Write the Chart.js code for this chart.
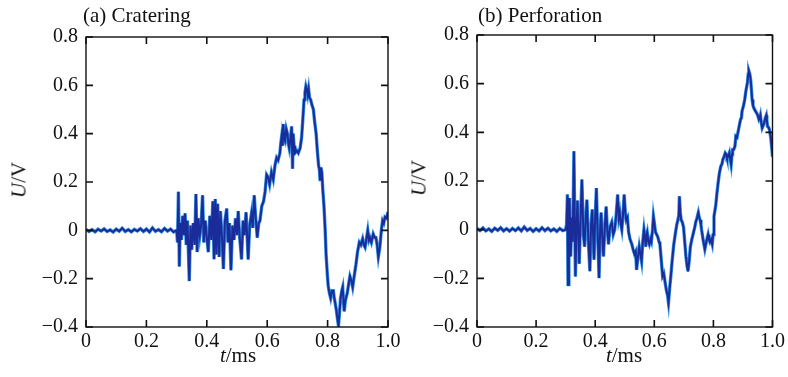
<!DOCTYPE html>
<html>
<head>
<meta charset="utf-8">
<script src="https://cdn.jsdelivr.net/npm/chart.js@4.4.1/dist/chart.umd.min.js"></script>
<style>
  html, body { margin: 0; padding: 0; background: #fff; }
  body { width: 788px; height: 377px; position: relative; overflow: hidden; font-family: 'Liberation Serif', 'Times New Roman', serif; color: #111; }
  canvas { position: absolute; top: 0; }
  #c1 { left: 0; }
  #c2 { left: 394px; }
  .lbl { position: absolute; font-size: 21px; line-height: 1; white-space: nowrap; }
  .ylab { transform: translate(-50%, -50%) rotate(-90deg); }
  .xlab { transform: translateX(-50%); }
</style>
</head>
<body>
<canvas id="c1" width="410" height="377" style="width:410px;height:377px"></canvas>
<canvas id="c2" width="394" height="377" style="width:394px;height:377px"></canvas>

<div class="lbl" style="left:83px;top:5px">(a) Cratering</div>
<div class="lbl" style="left:478px;top:5px">(b) Perforation</div>
<div class="lbl ylab" style="left:19px;top:180px"><i>U</i>/V</div>
<div class="lbl ylab" style="left:419px;top:178px"><i>U</i>/V</div>
<div class="lbl xlab" style="left:238px;top:345px"><i>t</i>/ms</div>
<div class="lbl xlab" style="left:624px;top:345px"><i>t</i>/ms</div>

<script>
// tick values
const xTicks = [0, 0.2, 0.4, 0.6, 0.8, 1.0];
const yTicks = [-0.4, -0.2, 0, 0.2, 0.4, 0.6, 0.8];

// (a) cratering: time (ms) and voltage (V)
const craterT = [
  0, 0.01, 0.02, 0.03, 0.04, 0.05, 0.06, 0.07, 0.08, 0.09, 0.10, 0.11, 0.12, 0.13, 0.14,
  0.15, 0.16, 0.17, 0.18, 0.19, 0.20, 0.21, 0.22, 0.23, 0.24, 0.25, 0.26, 0.27, 0.28, 0.29,
  0.300, 0.303, 0.306, 0.309, 0.312, 0.316, 0.320, 0.324, 0.328, 0.332, 0.336, 0.342, 0.346,
  0.350, 0.355, 0.360, 0.364, 0.368, 0.372, 0.377, 0.381, 0.386, 0.390, 0.395, 0.400, 0.405,
  0.410, 0.415, 0.420, 0.424, 0.428, 0.432, 0.436, 0.441, 0.445, 0.450, 0.455, 0.460, 0.466,
  0.470, 0.475, 0.480, 0.485, 0.490, 0.495, 0.500, 0.504, 0.509, 0.515, 0.520, 0.525, 0.530,
  0.537, 0.542, 0.548, 0.552, 0.557, 0.562, 0.567, 0.572, 0.576, 0.582, 0.588, 0.593, 0.598,
  0.603, 0.608, 0.614, 0.620, 0.626, 0.631, 0.636, 0.642, 0.645, 0.648, 0.651, 0.653, 0.656,
  0.659, 0.663, 0.667, 0.670, 0.673, 0.677, 0.681, 0.684, 0.686, 0.689, 0.692, 0.698, 0.703,
  0.709, 0.714, 0.718, 0.722, 0.725, 0.728, 0.731, 0.734, 0.737, 0.740, 0.744, 0.748, 0.753,
  0.757, 0.762, 0.766, 0.770, 0.773, 0.775, 0.778, 0.781, 0.784, 0.788, 0.792, 0.795, 0.799,
  0.802, 0.806, 0.810, 0.814, 0.819, 0.822, 0.825, 0.829, 0.832, 0.836, 0.840, 0.843, 0.847,
  0.850, 0.853, 0.855, 0.859, 0.865, 0.870, 0.874, 0.879, 0.883, 0.888, 0.894, 0.899, 0.905,
  0.910, 0.916, 0.920, 0.924, 0.928, 0.933, 0.937, 0.940, 0.945, 0.951, 0.956, 0.960, 0.964,
  0.968, 0.973, 0.978, 0.982, 0.986, 0.990, 0.995, 1.000
];
const craterU = [
  0.004, -0.005, 0.003, -0.006, 0.005, -0.003, 0.006, -0.005, 0.002, -0.007, 0.005, -0.004, 0.009, -0.005, 0.003,
  -0.006, 0.004, -0.003, 0.007, -0.005, 0.005, -0.007, 0.010, -0.004, 0.003, -0.006, 0.008, -0.003, 0.005, -0.007,
  0.00, -0.05, 0.16, -0.15, 0.03, -0.04, 0.06, -0.02, 0.07, -0.06, 0.04, -0.21, 0.02,
  -0.08, 0.03, -0.06, 0.15, -0.09, 0.05, -0.02, 0.02, 0.145, -0.05, 0.04, -0.03, -0.09,
  0.06, -0.04, 0.12, -0.12, 0.13, -0.10, 0.11, -0.11, 0.08, -0.02, -0.16, 0.04, 0.09,
  -0.05, 0.03, -0.165, 0.02, -0.04, 0.05, -0.02, 0.08, -0.03, -0.12, 0.04, -0.02, 0.075,
  -0.12, 0.02, 0.07, 0.01, 0.145, 0.05, -0.03, 0.03, 0.04, 0.10, 0.12, 0.16, 0.23,
  0.22, 0.19, 0.24, 0.21, 0.27, 0.30, 0.29, 0.32, 0.36, 0.39, 0.35, 0.44, 0.38,
  0.37, 0.42, 0.40, 0.36, 0.34, 0.38, 0.43, 0.255, 0.40, 0.35, 0.32, 0.33, 0.32,
  0.34, 0.385, 0.46, 0.54, 0.57, 0.595, 0.58, 0.56, 0.585, 0.55, 0.54, 0.52, 0.50,
  0.45, 0.40, 0.33, 0.27, 0.25, 0.21, 0.26, 0.24, 0.17, 0.10, 0.00, -0.10, -0.18,
  -0.23, -0.26, -0.28, -0.25, -0.25, -0.28, -0.30, -0.33, -0.36, -0.395, -0.33, -0.28, -0.25,
  -0.235, -0.30, -0.335, -0.29, -0.26, -0.22, -0.19, -0.21, -0.235, -0.19, -0.14, -0.09, -0.05,
  -0.06, -0.035, -0.06, -0.07, -0.04, 0.00, -0.04, -0.03, -0.05, -0.015, -0.03, -0.03, -0.06,
  -0.11, -0.07, 0.00, 0.04, 0.03, 0.055, 0.05, 0.076
];

// (b) perforation: time (ms) and voltage (V)
const perfT = [
  0, 0.01, 0.02, 0.03, 0.04, 0.05, 0.06, 0.07, 0.08, 0.09, 0.10, 0.11, 0.12, 0.13, 0.14,
  0.15, 0.16, 0.17, 0.18, 0.19, 0.20, 0.21, 0.22, 0.23, 0.24, 0.25, 0.26, 0.27, 0.28, 0.29,
  0.300, 0.303, 0.306, 0.308, 0.311, 0.313, 0.317, 0.321, 0.324, 0.328, 0.333, 0.337, 0.340,
  0.346, 0.350, 0.355, 0.360, 0.364, 0.368, 0.372, 0.377, 0.382, 0.386, 0.390, 0.396, 0.400,
  0.404, 0.409, 0.413, 0.417, 0.420, 0.424, 0.428, 0.433, 0.437, 0.441, 0.445, 0.450, 0.456,
  0.461, 0.466, 0.471, 0.476, 0.480, 0.483, 0.487, 0.490, 0.494, 0.498, 0.502, 0.505, 0.509,
  0.513, 0.518, 0.524, 0.528, 0.533, 0.537, 0.540, 0.545, 0.549, 0.553, 0.557, 0.561, 0.565,
  0.568, 0.571, 0.574, 0.576, 0.580, 0.583, 0.587, 0.590, 0.594, 0.597, 0.601, 0.604, 0.608,
  0.612, 0.616, 0.619, 0.624, 0.628, 0.632, 0.637, 0.641, 0.645, 0.648, 0.652, 0.656, 0.661,
  0.666, 0.672, 0.676, 0.680, 0.683, 0.685, 0.688, 0.691, 0.695, 0.699, 0.703, 0.707, 0.711,
  0.714, 0.718, 0.722, 0.727, 0.733, 0.737, 0.740, 0.745, 0.749, 0.752, 0.755, 0.758, 0.760,
  0.765, 0.771, 0.776, 0.782, 0.785, 0.788, 0.792, 0.796, 0.799, 0.802, 0.808, 0.812, 0.816,
  0.820, 0.825, 0.829, 0.832, 0.836, 0.840, 0.843, 0.846, 0.850, 0.854, 0.857, 0.860, 0.863,
  0.865, 0.869, 0.873, 0.876, 0.880, 0.884, 0.888, 0.892, 0.895, 0.897, 0.902, 0.906, 0.910,
  0.915, 0.918, 0.920, 0.923, 0.926, 0.929, 0.931, 0.934, 0.937, 0.941, 0.946, 0.950, 0.954,
  0.957, 0.959, 0.962, 0.965, 0.969, 0.972, 0.976, 0.979, 0.981, 0.983, 0.987, 0.990, 0.994,
  0.998, 1.000
];
const perfU = [
  0.005, -0.004, 0.007, -0.005, 0.003, -0.007, 0.006, -0.003, 0.008, -0.005, 0.004, -0.006, 0.005, -0.004, 0.007,
  -0.005, 0.011, -0.003, 0.005, -0.007, 0.004, -0.005, 0.008, -0.004, 0.006, -0.005, 0.003, -0.007, 0.005, -0.004,
  0.00, 0.02, 0.144, -0.226, 0.03, 0.13, -0.11, 0.05, -0.05, 0.322, -0.192, 0.02, 0.12,
  -0.14, 0.03, 0.206, -0.02, -0.07, 0.05, 0.123, -0.05, -0.171, 0.02, 0.083, -0.123, 0.05,
  0.171, -0.04, -0.199, 0.01, 0.07, -0.03, -0.11, 0.02, 0.095, 0.00, -0.06, 0.01, 0.03,
  -0.02, 0.00, 0.06, 0.144, 0.05, 0.07, 0.02, 0.00, 0.06, 0.144, 0.07, 0.04, 0.05,
  -0.01, -0.04, -0.06, -0.08, -0.10, -0.09, -0.165, -0.11, -0.07, -0.10, -0.13, -0.05, 0.00,
  -0.03, -0.07, -0.02, -0.01, -0.05, -0.06, -0.04, -0.05, 0.00, 0.055, 0.02, -0.01, -0.02,
  -0.03, -0.05, -0.06, -0.13, -0.19, -0.18, -0.22, -0.25, -0.27, -0.30, -0.24, -0.19, -0.12,
  -0.06, -0.01, 0.02, 0.04, 0.06, 0.137, 0.07, 0.04, 0.03, 0.01, -0.05, -0.11, -0.15,
  -0.171, -0.13, -0.07, -0.04, -0.01, 0.01, 0.03, 0.05, 0.07, 0.05, 0.04, 0.02, 0.00,
  -0.04, -0.08, -0.05, -0.02, -0.04, -0.05, -0.04, -0.06, -0.02, 0.055, 0.10, 0.15, 0.192,
  0.23, 0.26, 0.27, 0.288, 0.30, 0.315, 0.31, 0.295, 0.30, 0.315, 0.29, 0.267, 0.31,
  0.329, 0.33, 0.343, 0.384, 0.38, 0.405, 0.43, 0.453, 0.46, 0.487, 0.51, 0.535, 0.57,
  0.604, 0.64, 0.652, 0.64, 0.617, 0.57, 0.535, 0.51, 0.50, 0.49, 0.48, 0.47, 0.453,
  0.46, 0.47, 0.44, 0.418, 0.43, 0.44, 0.46, 0.47, 0.45, 0.425, 0.42, 0.41, 0.38,
  0.33, 0.30
];

const FONT = 'Liberation Serif';

function fmt(v) {
  const r = Math.round(v * 10) / 10;
  if (r === 0) return '0';
  return (r < 0 ? '\u2212' : '') + Math.abs(r).toFixed(1);
}

// frame and inward ticks on all four sides
const framePlugin = {
  id: 'frame',
  afterDatasetsDraw(chart) {
    const { ctx, chartArea: a, scales } = chart;
    ctx.save();
    ctx.strokeStyle = '#111';
    ctx.lineWidth = 1.4;
    ctx.strokeRect(a.left, a.top, a.right - a.left, a.bottom - a.top);
    ctx.lineWidth = 1.6;
    ctx.beginPath();
    xTicks.forEach(v => {
      const px = scales.x.getPixelForValue(v);
      ctx.moveTo(px, a.bottom); ctx.lineTo(px, a.bottom - 7);
      ctx.moveTo(px, a.top); ctx.lineTo(px, a.top + 7);
    });
    yTicks.forEach(v => {
      const py = scales.y.getPixelForValue(v);
      ctx.moveTo(a.left, py); ctx.lineTo(a.left + 7, py);
      ctx.moveTo(a.right, py); ctx.lineTo(a.right - 7, py);
    });
    ctx.stroke();
    ctx.restore();
  }
};

function makeChart(id, times, volts, yWidth, padTop, padRight) {
  const pts = times.map((t, i) => ({ x: t, y: volts[i] }));
  return new Chart(document.getElementById(id), {
    type: 'line',
    data: {
      datasets: [
        // dark trace on top (order 0 is drawn last)
        { data: pts, borderColor: '#1a2c9a', borderWidth: 2.0, pointRadius: 0, tension: 0, order: 0 },
        { data: pts, borderColor: '#3393e4', borderWidth: 3.4, pointRadius: 0, tension: 0, order: 1 }
      ]
    },
    options: {
      responsive: false,
      animation: false,
      events: [],
      layout: { padding: { top: padTop, right: padRight, left: 0, bottom: 0 } },
      plugins: { legend: { display: false }, tooltip: { enabled: false } },
      scales: {
        x: {
          type: 'linear', min: 0, max: 1,
          afterBuildTicks: s => { s.ticks = xTicks.map(v => ({ value: v })); },
          afterFit: s => { s.height = 50; },
          grid: { display: false, drawTicks: false },
          border: { display: false },
          ticks: { color: '#111', padding: 3, maxRotation: 0, autoSkip: false,
                   font: { family: FONT, size: 20 }, callback: v => fmt(v) }
        },
        y: {
          min: -0.4, max: 0.8,
          afterBuildTicks: s => { s.ticks = yTicks.map(v => ({ value: v })); },
          afterFit: s => { s.width = yWidth; },
          grid: { display: false, drawTicks: false },
          border: { display: false },
          ticks: { color: '#111', padding: 8, autoSkip: false,
                   font: { family: FONT, size: 20 }, callback: v => fmt(v) }
        }
      }
    },
    plugins: [framePlugin]
  });
}

makeChart('c1', craterT, craterU, 86, 37, 22);
makeChart('c2', perfT, perfU, 83, 35, 9);
</script>
</body>
</html>
